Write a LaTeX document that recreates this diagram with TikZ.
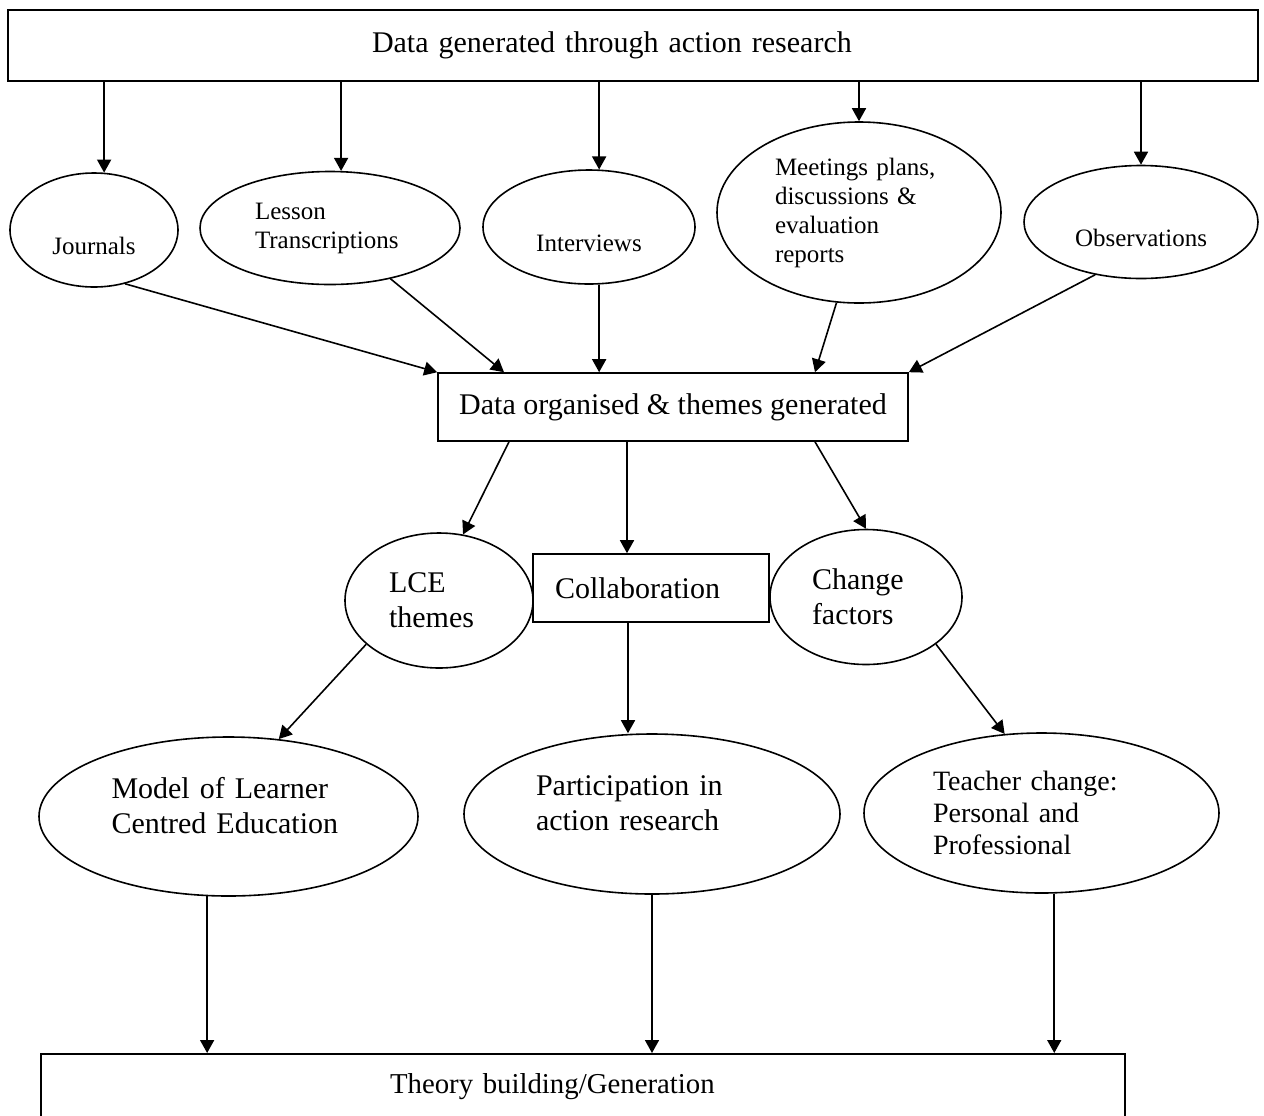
\documentclass[tikz,border=0pt]{standalone}
\usepackage{fontspec}
\setmainfont{Liberation Serif}
\usetikzlibrary{arrows.meta,positioning,shapes.geometric}
\tikzset{
  frame/.style={draw, rectangle, line width=0.8pt, inner sep=0pt},
  oval/.style={draw, ellipse, line width=0.8pt, inner sep=1pt},
  smalltext/.style={font=\fontsize{12.5}{14.5}\selectfont},
  bigtext/.style={font=\fontsize{15}{17.5}\selectfont},
  arrow/.style={-{Triangle[length=6.5pt, width=7pt]}, line width=0.8pt}
}

\begin{document}
\begin{tikzpicture}[x=0.5pt, y=-0.5pt]
  \useasboundingbox (0,0) rectangle (1264,1115);

  \node[frame, bigtext, minimum width=625pt, minimum height=35.5pt, text width=261pt, inner xsep=182pt, align=left] (top) at (633,45.5) {Data generated through action research};

  \node[oval, smalltext, minimum width=84pt, minimum height=57pt, align=center] (journals) at (94,230) {\strut\\Journals};
  \node[oval, smalltext, minimum width=130pt, minimum height=56.5pt, text width=75pt, align=left] (lesson) at (330,228) {Lesson\\Transcriptions};
  \node[oval, smalltext, minimum width=106pt, minimum height=57pt, align=center] (interviews) at (589,227) {\strut\\Interviews};
  \node[oval, smalltext, minimum width=142pt, minimum height=90.5pt, text width=84pt, align=left] (meetings) at (859,212.5) {Meetings plans,\\discussions \&\\evaluation\\reports};
  \node[oval, smalltext, minimum width=117pt, minimum height=56.5pt, align=center] (observations) at (1141,222) {\strut\\Observations};

  \node[frame, bigtext, minimum width=235pt, minimum height=34pt] (organise) at (673,407) {Data organised \& themes generated};

  \node[oval, bigtext, minimum width=94pt, minimum height=67.5pt, text width=50pt, align=left] (lce) at (439,600.5) {LCE\\themes};
  \node[frame, bigtext, minimum width=118pt, minimum height=34pt, text width=96pt, inner xsep=11pt, align=left] (collab) at (651,588) {Collaboration};
  \node[oval, bigtext, minimum width=96pt, minimum height=67.5pt, text width=54pt, align=left] (change) at (866,597) {Change\\factors};

  \node[oval, bigtext, minimum width=189.5pt, minimum height=79.5pt, text width=117pt, align=left] (model) at (228.5,816.5) {Model of Learner\\Centred Education\\[-6.5pt]\mbox{}};
  \node[oval, bigtext, minimum width=188pt, minimum height=80pt, text width=116pt, align=left] (particip) at (652,814) {Participation in\\action research\\[-6.5pt]\mbox{}};
  \node[oval, font=\fontsize{14}{16}\selectfont, minimum width=177.5pt, minimum height=80pt, text width=108.5pt, align=left] (teacher) at (1041.5,813) {Teacher change:\\Personal and\\Professional};

  \node[frame, font=\fontsize{14.4}{17}\selectfont, anchor=north, minimum width=542pt, text width=193pt, inner xsep=174.5pt, inner ysep=9.7pt, text depth=40pt, align=left] (theory) at (583,1053) {Theory building/Generation};

  \draw[arrow] (top.south -| journals.80) -- (journals.80);
  \draw[arrow] (top.south -| lesson.79) -- (lesson.79);
  \draw[arrow] (top.south -| interviews.80) -- (interviews.80);
  \draw[arrow] (top.south -| meetings.north) -- (meetings.north);
  \draw[arrow] (top.south -| observations.north) -- (observations.north);

  \draw[arrow] (journals.-60) -- (organise.north west);
  \draw[arrow] (lesson.-40) -- ([xshift=-84.5pt]organise.north);
  \draw[arrow] (interviews.-80) -- (interviews.-80 |- organise.north);
  \draw[arrow] (meetings.-104) -- ([xshift=71pt]organise.north);
  \draw[arrow] (observations.-131) -- (organise.north east);

  \draw[arrow] ([xshift=-82pt]organise.south) -- (lce.70);
  \draw[arrow] ([xshift=-23pt]organise.south) -- ([xshift=-23pt]organise.south |- collab.north);
  \draw[arrow] ([xshift=71pt]organise.south) -- (change.north);

  \draw[arrow] (lce.-149) -- (model.57);
  \draw[arrow] ([xshift=-11.5pt]collab.south) -- ([xshift=-11.5pt]collab.south |- particip.north);
  \draw[arrow] (change.-34) -- (teacher.115);

  \draw[arrow] (model.-105) -- (model.-105 |- theory.north);
  \draw[arrow] (particip.south) -- (particip.south |- theory.north);
  \draw[arrow] (teacher.-81) -- (teacher.-81 |- theory.north);
\end{tikzpicture}
\end{document}
